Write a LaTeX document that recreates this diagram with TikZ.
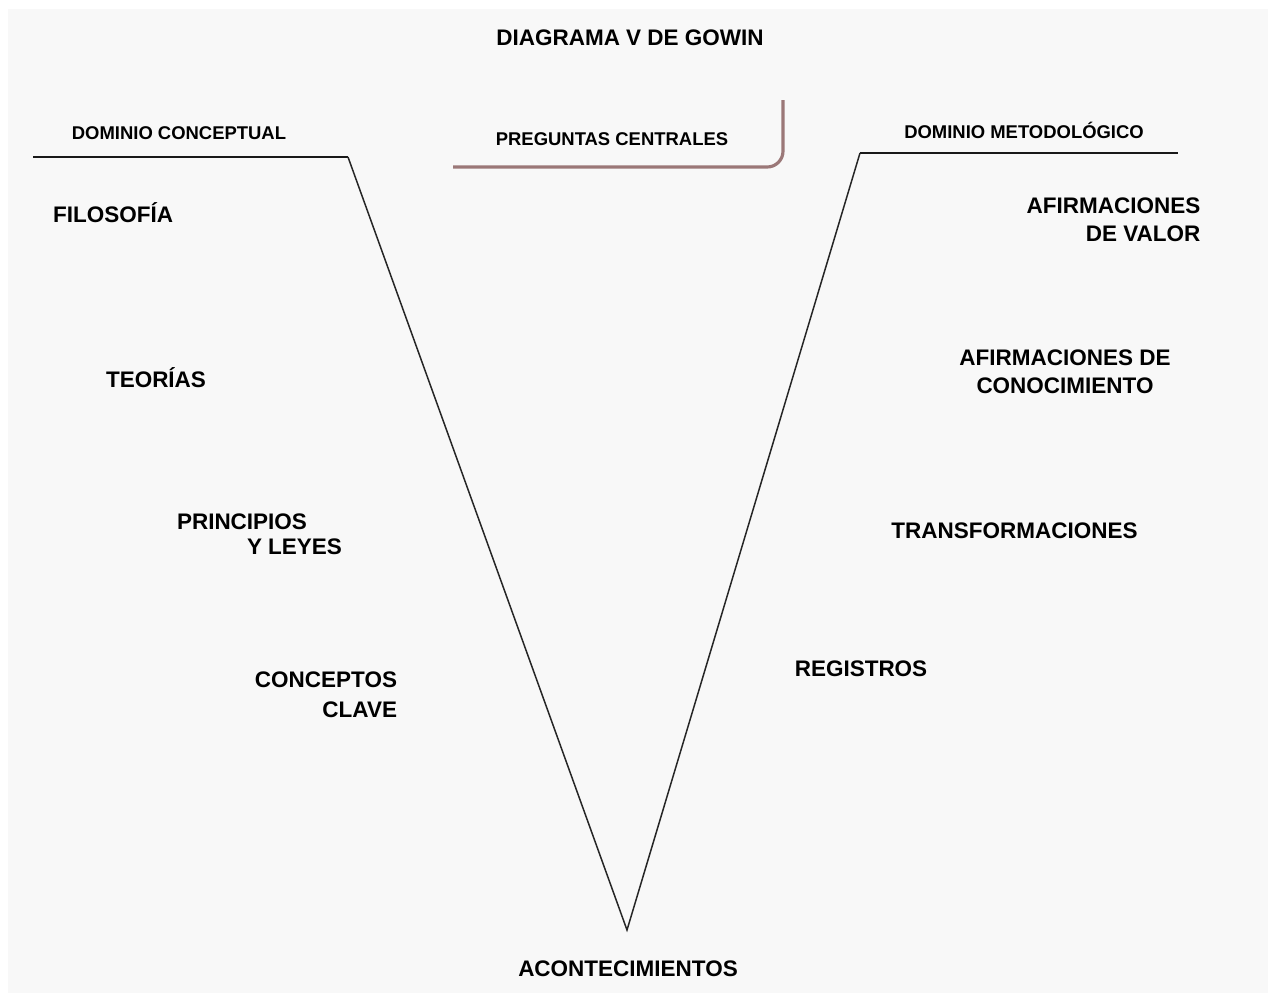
\documentclass[tikz,border=0pt]{standalone}
\usepackage{fontspec}
\setmainfont{Liberation Sans}
\usetikzlibrary{positioning, calc}
\definecolor{bggray}{RGB}{248,248,248}
\definecolor{shadowrose}{RGB}{155,120,120}

\begin{document}
\begin{tikzpicture}[
	x=0.02cm, y=-0.02cm,
	every node/.style={font=\bfseries\fontsize{12.8}{16}\selectfont, inner sep=0pt},
	small label/.style={font=\bfseries\fontsize{10.5}{13}\selectfont},
	vline/.style={line width=0.85pt, black!85},
	rimline/.style={line width=1pt, black!90},
	shadow line/.style={draw=shadowrose, line width=1.8pt, rounded corners=9pt}
	]
	
	% === CANVAS ===
	\useasboundingbox[fill=white] (0,0) rectangle (1275,995);
	\fill[bggray] (8,9) rectangle (1268,993);
	
	% === TITLE ===
	\node (title) at (630,38) {DIAGRAMA V DE GOWIN};
	
	% === THE V ===
	\coordinate (lefttail) at (33,157);
	\coordinate (leftrim) at (348,157);
	\coordinate (vertex) at (627,930);
	\coordinate (rightrim) at (860,153);
	\coordinate (righttail) at (1178,153);
	
	\draw[rimline] (lefttail) -- (leftrim);
	\draw[rimline] (rightrim) -- (righttail);
	\draw[vline] (leftrim) -- (vertex) -- (rightrim);
	
	% === HEADINGS ===
	\node[small label] (conceptual) at (179,133) {DOMINIO CONCEPTUAL};
	\node[small label] (metodologico) at (1024,130) {DOMINIO METODOLÓGICO};
	
	% central questions with its shadowed box
	\node[small label] (preguntas) at (612,139) {PREGUNTAS CENTRALES};
	\coordinate (boxtop) at (783,100);
	\coordinate (boxcorner) at (783,167);
	\coordinate (boxleft) at (453,167);
	\draw[shadow line] (boxtop) -- (boxcorner) -- (boxleft);
	
	% === CONCEPTUAL SIDE ===
	\node (filosofia) at (113,213) {FILOSOFÍA};
	\node (teorias) at (156,378) {TEORÍAS};
	\node[align=left] (principios) at (259.5,534.5) {PRINCIPIOS\\[-2pt]\hspace*{1.4cm}Y LEYES};
	\node[align=right] (conceptos) at (326,695) {CONCEPTOS\\[1pt]CLAVE};
	
	% === METHODOLOGICAL SIDE ===
	\node[align=right] (valor) at (1113.5,219.5) {AFIRMACIONES\\DE VALOR};
	\node[align=center] (conocimiento) at (1065,372) {AFIRMACIONES DE\\CONOCIMIENTO};
	\node (transformaciones) at (1014.5,531) {TRANSFORMACIONES};
	\node (registros) at (861,669) {REGISTROS};
	
	% === EVENTS ===
	\node (acontecimientos) at (628,969) {ACONTECIMIENTOS};
	
\end{tikzpicture}
\end{document}
